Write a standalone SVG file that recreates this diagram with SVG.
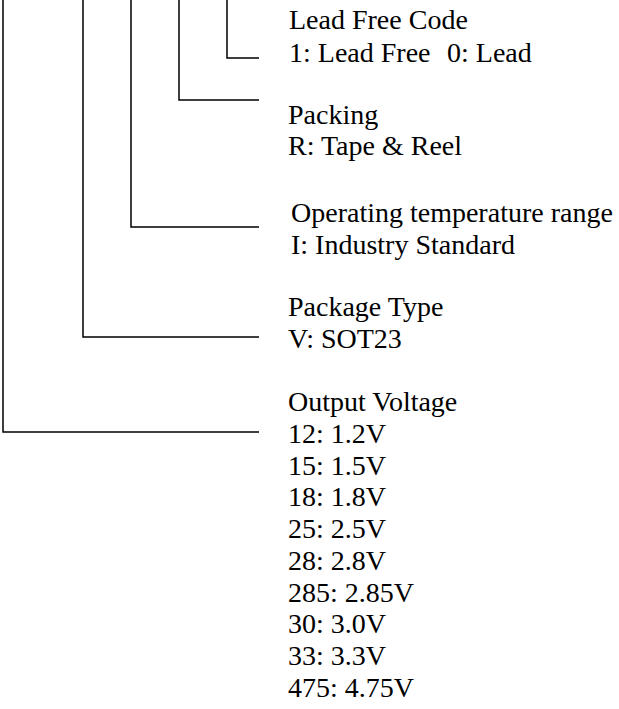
<svg xmlns="http://www.w3.org/2000/svg" width="619" height="709" viewBox="0 0 619 709">
<style>
.t{font-family:"Liberation Serif","Times New Roman",serif;font-size:28px;fill:#000}
.c{fill:none;stroke:#000;stroke-width:1.5}
</style>
<rect width="619" height="709" fill="#fff"/>
<g id="connectors">
<polyline class="c" points="227,0 227,58 259,58"/>
<polyline class="c" points="179,0 179,100 259,100"/>
<polyline class="c" points="131,0 131,227 259,227"/>
<polyline class="c" points="83,0 83,337 259,337"/>
<polyline class="c" points="3,0 3,432 259,432"/>
</g>
<g id="lead-free">
<text class="t" x="289" y="29">Lead Free Code</text>
<text class="t" x="289" y="62">1: Lead Free</text>
<text class="t" x="447" y="62">0: Lead</text>
</g>
<g id="packing">
<text class="t" x="288" y="124">Packing</text>
<text class="t" x="288" y="155">R: Tape &amp; Reel</text>
</g>
<g id="temperature">
<text class="t" x="291" y="222">Operating temperature range</text>
<text class="t" x="291" y="254">I: Industry Standard</text>
</g>
<g id="package">
<text class="t" x="288" y="316">Package Type</text>
<text class="t" x="288" y="348">V: SOT23</text>
</g>
<g id="voltage">
<text class="t" x="288" y="411">Output Voltage</text>
<text class="t" x="288" y="443">12: 1.2V</text>
<text class="t" x="288" y="475">15: 1.5V</text>
<text class="t" x="288" y="506">18: 1.8V</text>
<text class="t" x="288" y="538">25: 2.5V</text>
<text class="t" x="288" y="570">28: 2.8V</text>
<text class="t" x="288" y="602">285: 2.85V</text>
<text class="t" x="288" y="633">30: 3.0V</text>
<text class="t" x="288" y="665">33: 3.3V</text>
<text class="t" x="288" y="697">475: 4.75V</text>
</g>
</svg>
